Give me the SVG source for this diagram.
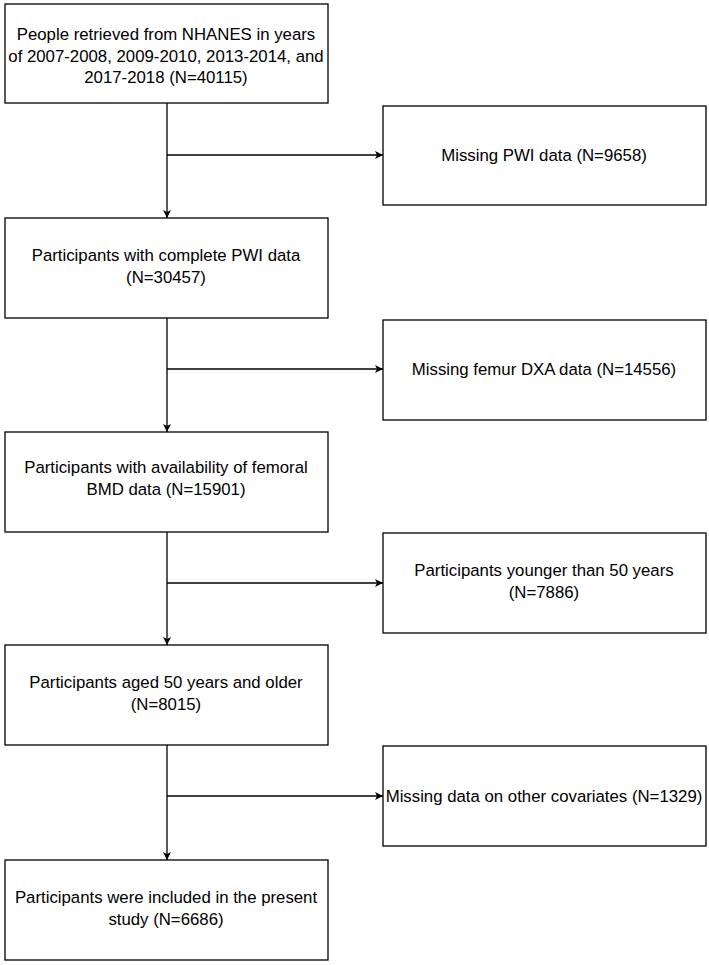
<svg xmlns="http://www.w3.org/2000/svg" width="709" height="965" viewBox="0 0 709 965">
<style>
rect{fill:#fff;stroke:#000;stroke-width:1.3}
text{font-family:"Liberation Sans",Arial,sans-serif;font-size:16.8px;fill:#000;text-anchor:middle}
#connectors line{stroke:#000;stroke-width:1.3}
</style>
<defs><marker id="a" viewBox="0 0 10 10" refX="10" refY="5" markerWidth="8" markerHeight="8" orient="auto" markerUnits="userSpaceOnUse"><path d="M0,0L10,5L0,10L2.5,5z" fill="#000"/></marker></defs>
<rect width="709" height="965" style="stroke:none"/>
<g id="connectors">
<line x1="167" y1="103" x2="167" y2="218" marker-end="url(#a)"/>
<line x1="167" y1="155" x2="383" y2="155" marker-end="url(#a)"/>
<line x1="167" y1="318" x2="167" y2="432" marker-end="url(#a)"/>
<line x1="167" y1="369" x2="383" y2="369" marker-end="url(#a)"/>
<line x1="167" y1="532" x2="167" y2="645" marker-end="url(#a)"/>
<line x1="167" y1="583" x2="383" y2="583" marker-end="url(#a)"/>
<line x1="167" y1="745" x2="167" y2="860" marker-end="url(#a)"/>
<line x1="167" y1="796" x2="383" y2="796" marker-end="url(#a)"/>
</g>
<g id="n1"><rect x="5" y="4" width="323" height="99"/><text x="166" y="40">People retrieved from NHANES in years</text><text x="166" y="62">of 2007-2008, 2009-2010, 2013-2014, and</text><text x="166" y="83">2017-2018 (N=40115)</text></g>
<g id="r1"><rect x="383" y="106" width="323" height="99"/><text x="544" y="161">Missing PWI data (N=9658)</text></g>
<g id="n2"><rect x="5" y="218" width="323" height="100"/><text x="166" y="261">Participants with complete PWI data</text><text x="166" y="283">(N=30457)</text></g>
<g id="r2"><rect x="383" y="320" width="323" height="100"/><text x="544" y="375">Missing femur DXA data (N=14556)</text></g>
<g id="n3"><rect x="5" y="432" width="323" height="100"/><text x="166" y="473">Participants with availability of femoral</text><text x="166" y="495">BMD data (N=15901)</text></g>
<g id="r3"><rect x="383" y="533" width="323" height="100"/><text x="544" y="576">Participants younger than 50 years</text><text x="544" y="598">(N=7886)</text></g>
<g id="n4"><rect x="5" y="645" width="323" height="100"/><text x="166" y="688">Participants aged 50 years and older</text><text x="166" y="710">(N=8015)</text></g>
<g id="r4"><rect x="383" y="746" width="323" height="100"/><text x="544" y="802">Missing data on other covariates (N=1329)</text></g>
<g id="n5"><rect x="5" y="860" width="323" height="100"/><text x="166" y="903">Participants were included in the present</text><text x="166" y="925">study (N=6686)</text></g>
</svg>
